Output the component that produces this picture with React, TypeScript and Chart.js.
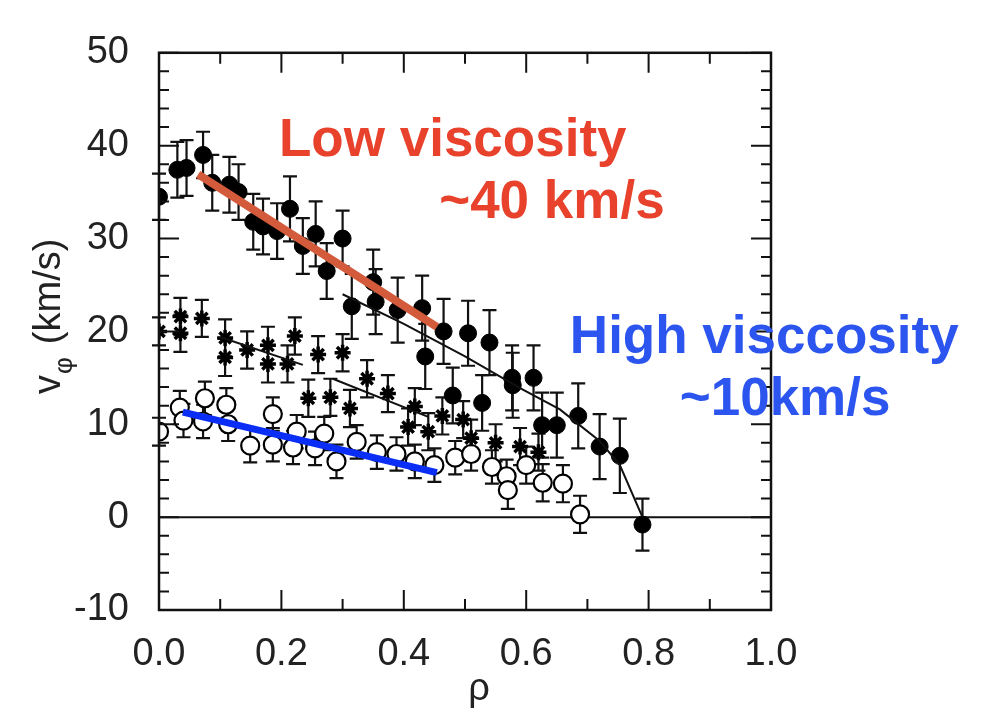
import React, { useEffect, useRef } from "react";
import { Chart, registerables } from "chart.js";
Chart.register(...registerables);

// Low viscosity (filled circles)
const filledX = [0.0, 0.03, 0.045, 0.072, 0.087, 0.115, 0.13, 0.154, 0.17, 0.193, 0.214, 0.235, 0.256, 0.274, 0.3, 0.315, 0.35, 0.354, 0.39, 0.43, 0.435, 0.465, 0.48, 0.505, 0.528, 0.54, 0.577, 0.578, 0.612, 0.626, 0.65, 0.685, 0.72, 0.753, 0.79];
const filledY = [34.5, 37.4, 37.6, 39.0, 36.0, 35.8, 35.0, 31.8, 31.3, 30.8, 33.2, 29.2, 30.5, 26.5, 30.0, 22.7, 25.3, 23.2, 22.3, 22.5, 17.3, 20.0, 13.1, 19.8, 12.3, 18.8, 15.0, 14.2, 15.0, 9.9, 9.9, 10.9, 7.6, 6.6, -0.8];
const filledErr = [2.5, 3.0, 3.0, 2.5, 3.0, 3.0, 3.0, 3.0, 3.0, 3.0, 3.5, 3.0, 3.5, 3.0, 3.0, 3.5, 3.5, 3.5, 3.5, 3.5, 3.5, 3.5, 3.0, 3.5, 3.0, 3.5, 3.5, 3.5, 3.5, 3.5, 3.5, 3.5, 3.5, 4.0, 2.8];

// Medium (stars)
const starX = [0.0, 0.035, 0.035, 0.07, 0.108, 0.108, 0.144, 0.178, 0.178, 0.21, 0.222, 0.26, 0.3, 0.244, 0.28, 0.312, 0.34, 0.374, 0.418, 0.407, 0.44, 0.463, 0.497, 0.51, 0.55, 0.59, 0.62];
const starY = [20.0, 21.6, 19.8, 21.4, 19.3, 17.2, 18.0, 18.5, 16.5, 16.5, 19.5, 17.5, 17.7, 12.8, 12.9, 11.7, 14.9, 13.3, 11.9, 9.7, 9.2, 10.9, 10.5, 8.5, 8.0, 7.6, 7.0];
const starErr = [1.5, 2.0, 2.0, 2.0, 2.0, 2.0, 2.0, 2.0, 2.0, 2.0, 2.0, 2.0, 2.0, 2.0, 2.0, 2.0, 2.0, 2.0, 2.0, 2.0, 2.0, 2.0, 2.0, 2.0, 2.0, 2.0, 2.0];

// High viscosity (open circles)
const openX = [0.0, 0.034, 0.04, 0.075, 0.072, 0.11, 0.113, 0.149, 0.186, 0.186, 0.219, 0.225, 0.255, 0.27, 0.29, 0.323, 0.356, 0.388, 0.418, 0.45, 0.484, 0.51, 0.544, 0.568, 0.57, 0.6, 0.627, 0.66, 0.688];
const openY = [9.2, 11.8, 10.4, 12.8, 10.3, 12.1, 10.0, 7.7, 11.1, 7.8, 7.5, 9.2, 7.4, 9.0, 6.0, 8.1, 7.0, 6.8, 6.0, 5.6, 6.4, 6.8, 5.4, 4.4, 2.9, 5.6, 3.7, 3.6, 0.3];
const openErr = [1.5, 1.8, 1.8, 1.8, 1.8, 1.8, 1.8, 1.8, 1.8, 1.8, 1.8, 1.8, 1.8, 1.8, 1.8, 1.8, 1.8, 1.8, 1.8, 1.8, 1.8, 1.8, 1.8, 1.8, 2.0, 2.0, 2.0, 2.0, 2.0];

// Fit curves
const fitLowX = [0.3, 0.4, 0.5, 0.59, 0.655, 0.72, 0.753, 0.79];
const fitLowY = [24.0, 20.8, 17.3, 13.9, 11.6, 8.2, 5.6, 0.0];
const fitStarAX = [0.1, 0.235];
const fitStarAY = [19.4, 16.4];
const fitStarBX = [0.284, 0.44];
const fitStarBY = [14.9, 10.8];

// Highlight lines
const redLineX = [0.064, 0.454];
const redLineY = [36.9, 20.5];
const blueLineX = [0.039, 0.454];
const blueLineY = [11.3, 4.8];

// Ticks
const xMajor = [0, 0.2, 0.4, 0.6, 0.8, 1.0];
const xMinor = [0.1, 0.3, 0.5, 0.7, 0.9];
const yMajor = [-10, 0, 10, 20, 30, 40, 50];
const yMinor = [-8, -6, -4, -2, 2, 4, 6, 8, 12, 14, 16, 18, 22, 24, 26, 28, 32, 34, 36, 38, 42, 44, 46, 48];

// Annotation texts
const notes = [
  { text: "Low viscosity", x: 0.48, y: 40.5, color: "#e8412c" },
  { text: "~40 km/s", x: 0.642, y: 33.8, color: "#e8412c" },
  { text: "High visccosity", x: 0.989, y: 19.3, color: "#2b55ee" },
  { text: "~10km/s", x: 1.023, y: 12.6, color: "#2b55ee" },
];

const pts = (xs: number[], ys: number[]) => xs.map((x, i) => ({ x, y: ys[i] }));

const FONT = "'Liberation Sans', Arial, sans-serif";

const decorPlugin = {
  id: "decor",
  beforeDatasetsDraw(chart: any) {
    const { ctx, chartArea, scales } = chart;
    const xs = scales.x, ys = scales.y;
    ctx.save();
    // zero line
    ctx.strokeStyle = "#111";
    ctx.lineWidth = 2;
    ctx.beginPath();
    ctx.moveTo(chartArea.left, ys.getPixelForValue(0));
    ctx.lineTo(chartArea.right, ys.getPixelForValue(0));
    ctx.stroke();
    // error bars
    chart.data.datasets.forEach((ds: any, di: number) => {
      if (!ds.errors) return;
      ctx.strokeStyle = "#111";
      ctx.lineWidth = 2.2;
      ds.data.forEach((v: any, i: number) => {
        const e = ds.errors[i];
        const px = xs.getPixelForValue(v.x);
        const top = ys.getPixelForValue(v.y + e);
        const bot = ys.getPixelForValue(v.y - e);
        const cap = 7;
        ctx.beginPath();
        ctx.moveTo(px, top);
        ctx.lineTo(px, bot);
        ctx.moveTo(px - cap, top);
        ctx.lineTo(px + cap, top);
        ctx.moveTo(px - cap, bot);
        ctx.lineTo(px + cap, bot);
        ctx.stroke();
      });
    });
    ctx.restore();
  },
  afterDatasetsDraw(chart: any) {
    const { ctx, chartArea, scales } = chart;
    const xs = scales.x, ys = scales.y;
    const { left, right, top, bottom } = chartArea;
    ctx.save();
    // frame
    ctx.strokeStyle = "#111";
    ctx.lineWidth = 2.5;
    ctx.strokeRect(left, top, right - left, bottom - top);
    ctx.lineWidth = 2;
    const tick = (len: number, vals: number[], axis: "x" | "y") => {
      ctx.beginPath();
      vals.forEach((v) => {
        if (axis === "x") {
          const p = xs.getPixelForValue(v);
          ctx.moveTo(p, bottom);
          ctx.lineTo(p, bottom - len);
          ctx.moveTo(p, top);
          ctx.lineTo(p, top + len);
        } else {
          const p = ys.getPixelForValue(v);
          ctx.moveTo(left, p);
          ctx.lineTo(left + len, p);
          ctx.moveTo(right, p);
          ctx.lineTo(right - len, p);
        }
      });
      ctx.stroke();
    };
    tick(20, xMajor, "x");
    tick(11, xMinor, "x");
    tick(20, yMajor, "y");
    tick(10, yMinor, "y");

    // annotation texts
    ctx.font = `bold 53px ${FONT}`;
    ctx.textAlign = "center";
    ctx.textBaseline = "middle";
    notes.forEach((n) => {
      ctx.fillStyle = n.color;
      ctx.fillText(n.text, xs.getPixelForValue(n.x), ys.getPixelForValue(n.y));
    });

    // y title with subscript
    ctx.fillStyle = "#222";
    ctx.translate(60, 394);
    ctx.rotate(-Math.PI / 2);
    ctx.textAlign = "left";
    ctx.textBaseline = "alphabetic";
    ctx.font = `38px ${FONT}`;
    ctx.fillText("v", 0, 0);
    const vw = ctx.measureText("v").width;
    ctx.font = `26px ${FONT}`;
    ctx.fillText("\u03C6", vw + 1, 12);
    const pw = ctx.measureText("\u03C6").width;
    ctx.font = `38px ${FONT}`;
    ctx.fillText("(km/s)", vw + pw + 14, 0);
    ctx.restore();

    // x title
    ctx.save();
    ctx.fillStyle = "#222";
    ctx.font = `38px ${FONT}`;
    ctx.textAlign = "center";
    ctx.textBaseline = "middle";
    ctx.fillText("\u03C1", (left + right) / 2 + 14, 690);
    ctx.restore();
  },
};

export default function App() {
  const ref = useRef<HTMLCanvasElement>(null);
  useEffect(() => {
    if (!ref.current) return;
    const chart = new Chart(ref.current, {
      type: "scatter",
      data: {
        datasets: [
          {
            type: "line",
            data: pts(redLineX, redLineY),
            borderColor: "#d35a3a",
            borderWidth: 8,
            pointRadius: 0,
            order: 0,
          } as any,
          {
            type: "line",
            data: pts(blueLineX, blueLineY),
            borderColor: "#0a2ef5",
            borderWidth: 7,
            pointRadius: 0,
            order: 0,
          } as any,
          {
            type: "line",
            data: pts(fitLowX, fitLowY),
            borderColor: "#111",
            borderWidth: 2,
            pointRadius: 0,
            order: 1,
          } as any,
          {
            type: "line",
            data: pts(fitStarAX, fitStarAY),
            borderColor: "#111",
            borderWidth: 2,
            pointRadius: 0,
            order: 1,
          } as any,
          {
            type: "line",
            data: pts(fitStarBX, fitStarBY),
            borderColor: "#111",
            borderWidth: 2,
            pointRadius: 0,
            order: 1,
          } as any,
          {
            data: pts(filledX, filledY),
            errors: filledErr,
            pointStyle: "circle",
            pointRadius: 8.5,
            backgroundColor: "#000",
            borderColor: "#000",
            borderWidth: 1,
            order: 2,
          } as any,
          {
            data: pts(starX, starY),
            errors: starErr,
            pointStyle: "star",
            pointRadius: 8,
            backgroundColor: "#000",
            borderColor: "#000",
            borderWidth: 3.5,
            order: 3,
          } as any,
          {
            data: pts(openX, openY),
            errors: openErr,
            pointStyle: "circle",
            pointRadius: 9,
            backgroundColor: "#fff",
            borderColor: "#000",
            borderWidth: 2.2,
            order: 4,
          } as any,
        ],
      },
      options: {
        responsive: false,
        animation: false,
        layout: { padding: { top: 25, right: 211, left: 0, bottom: 0 } },
        plugins: { legend: { display: false }, tooltip: { enabled: false } },
        scales: {
          x: {
            type: "linear",
            min: 0,
            max: 1,
            afterFit: (s: any) => { s.height = 107; },
            grid: { display: false, drawTicks: false },
            border: { display: false },
            ticks: {
              stepSize: 0.2,
              padding: 22,
              color: "#222",
              font: { family: FONT, size: 38 },
              callback: (v: any) => Number(v).toFixed(1),
            },
          },
          y: {
            type: "linear",
            min: -10,
            max: 50,
            afterFit: (s: any) => { s.width = 159; },
            grid: { display: false, drawTicks: false },
            border: { display: false },
            ticks: {
              stepSize: 10,
              padding: 30,
              color: "#222",
              font: { family: FONT, size: 38 },
            },
          },
        },
      } as any,
      plugins: [decorPlugin],
    });
    return () => chart.destroy();
  }, []);
  return (
    <div style={{ position: "fixed", left: 0, top: 0, width: 982, height: 717, background: "#fff" }}>
      <canvas ref={ref} width={982} height={717} style={{ width: 982, height: 717 }} />
    </div>
  );
}
